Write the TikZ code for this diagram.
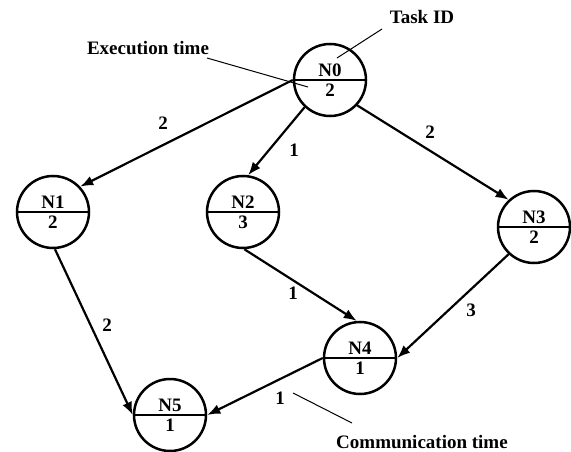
\documentclass[tikz,border=0pt]{standalone}
\usepackage{fontspec}
\setmainfont{Liberation Serif}
\usetikzlibrary{shapes.multipart,arrows.meta}
\begin{document}
\begin{tikzpicture}[x=1pt,y=-1pt,
  task/.style={circle split, draw, line width=2.5pt, minimum size=72pt, inner sep=2.5pt,
    font=\bfseries\fontsize{19}{21}\selectfont},
  edge/.style={-{Latex[length=13pt,width=10pt]}, line width=2.2pt},
  wlabel/.style={font=\bfseries\fontsize{19}{21}\selectfont},
  note/.style={font=\bfseries\fontsize{19}{21}\selectfont},
  pointer/.style={line width=1pt}]
\useasboundingbox (0,0) rectangle (571,452);
% tasks
\node[task] (n0) at (330,80) {N0 \nodepart{lower} 2};
\node[task] (n1) at (53,212) {N1 \nodepart{lower} 2};
\node[task] (n2) at (243,212) {N2 \nodepart{lower} 3};
\node[task] (n3) at (534,227) {N3 \nodepart{lower} 2};
\node[task] (n4) at (360,358) {N4 \nodepart{lower} 1};
\node[task] (n5) at (170,415) {N5 \nodepart{lower} 1};
% edges
\draw[edge] (n0.180) -- (n1.43);
\draw[edge] (n0.227) -- (n2.82);
\draw[edge] (n0.317) -- (n3.133);
\draw[edge] (n1.273) -- (n5.180);
\draw[edge] (n2.272) -- (n4.95);
\draw[edge] (n3.227) -- (n4.0);
\draw[edge] (n4.180) -- (n5.0);
% edge weights
\node[wlabel] (w01) at (163,123) {2};
\node[wlabel] (w02) at (294,150) {1};
\node[wlabel] (w03) at (430,132) {2};
\node[wlabel] (w15) at (107,325) {2};
\node[wlabel] (w24) at (293,293) {1};
\node[wlabel] (w34) at (471,310) {3};
\node[wlabel] (w45) at (280,398) {1};
% annotations
\node[note] (tid) at (422,17) {Task ID};
\node[note] (ext) at (148,48) {Execution time};
\node[note] (cmt) at (422,442) {Communication time};
\coordinate (tidA) at (337,58);
\coordinate (tidB) at (382,29);
\coordinate (extA) at (207,58);
\coordinate (extB) at (308,87);
\coordinate (cmtA) at (293,393);
\coordinate (cmtB) at (352,423);
\draw[pointer] (tidA) -- (tidB);
\draw[pointer] (extA) -- (extB);
\draw[pointer] (cmtA) -- (cmtB);
\end{tikzpicture}
\end{document}
